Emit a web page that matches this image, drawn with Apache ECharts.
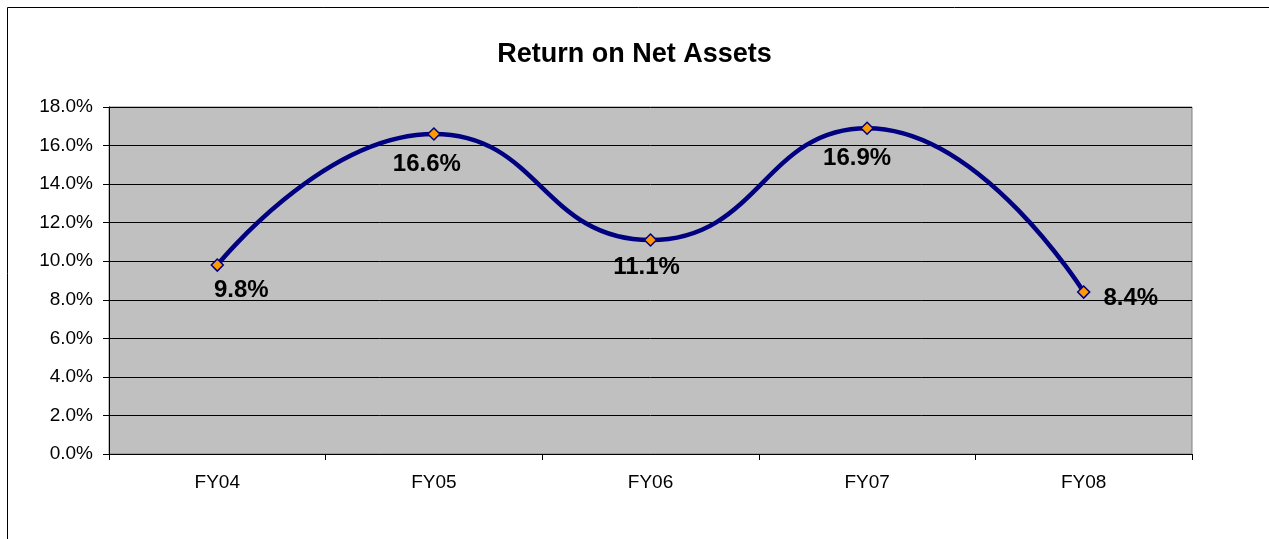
<!DOCTYPE html>
<html>
<head>
<meta charset="utf-8">
<script src="https://cdn.jsdelivr.net/npm/echarts@6/dist/echarts.min.js"></script>
<style>
  html, body { margin: 0; padding: 0; background: #fff; }
  #chart { width: 1269px; height: 539px; }
</style>
</head>
<body>
<div id="chart"></div>
<script>
var years = ['FY04', 'FY05', 'FY06', 'FY07', 'FY08'];
var rona = [9.8, 16.6, 11.1, 16.9, 8.4];
var yTicks = [0, 2, 4, 6, 8, 10, 12, 14, 16, 18];

// where each value label sits relative to its point
var labelPlace = [
  { position: 'bottom', offset: [24, 2] },
  { position: 'bottom', offset: [-7, 7] },
  { position: 'bottom', offset: [-4, 4] },
  { position: 'bottom', offset: [-10, 6] },
  { position: 'right', offset: [8, 6] }
];

var chart = echarts.init(document.getElementById('chart'));

var points = [];
for (var i = 0; i < rona.length; i++) {
  points.push({
    value: rona[i],
    label: labelPlace[i]
  });
}

var font = 'Liberation Sans, Arial, sans-serif';

var option = {
  animation: false,
  backgroundColor: '#fff',
  title: {
    text: 'Return on Net Assets',
    left: 'center',
    top: 36,
    textStyle: {
      fontFamily: font,
      fontSize: 27,
      fontWeight: 'bold',
      color: '#000'
    }
  },
  graphic: [{
    type: 'rect',
    shape: { x: 7.5, y: 7.5, width: 1300, height: 600 },
    style: { fill: null, stroke: '#000', lineWidth: 1 },
    silent: true
  }],
  grid: {
    left: 109,
    right: 77,
    top: 107,
    bottom: 85,
    show: true,
    backgroundColor: '#c0c0c0',
    borderColor: '#808080',
    borderWidth: 1
  },
  xAxis: {
    type: 'category',
    data: years,
    boundaryGap: true,
    axisLine: { lineStyle: { color: '#000', width: 1 } },
    axisTick: { show: true, length: 6, lineStyle: { color: '#000' } },
    axisLabel: {
      margin: 19,
      fontFamily: font,
      fontSize: 19,
      color: '#000'
    }
  },
  yAxis: {
    type: 'value',
    min: yTicks[0],
    max: yTicks[yTicks.length - 1],
    interval: 2,
    axisLine: { show: true, lineStyle: { color: '#000', width: 1 } },
    axisTick: { show: true, length: 6, lineStyle: { color: '#000' } },
    splitLine: { show: true, lineStyle: { color: '#000', width: 1 } },
    axisLabel: {
      margin: 16,
      fontFamily: font,
      fontSize: 19,
      color: '#000',
      formatter: function (v) { return v.toFixed(1) + '%'; }
    }
  },
  series: [{
    type: 'line',
    data: points,
    smooth: 0.5,
    lineStyle: { color: '#000080', width: 4.5 },
    symbol: 'diamond',
    symbolSize: 12,
    itemStyle: { color: '#ff9900', borderColor: '#000080', borderWidth: 1.5 },
    label: {
      show: true,
      fontFamily: font,
      fontSize: 24,
      fontWeight: 'bold',
      color: '#000',
      formatter: function (p) { return p.value.toFixed(1) + '%'; }
    },
    z: 5
  }]
};

chart.setOption(option);
</script>
</body>
</html>
